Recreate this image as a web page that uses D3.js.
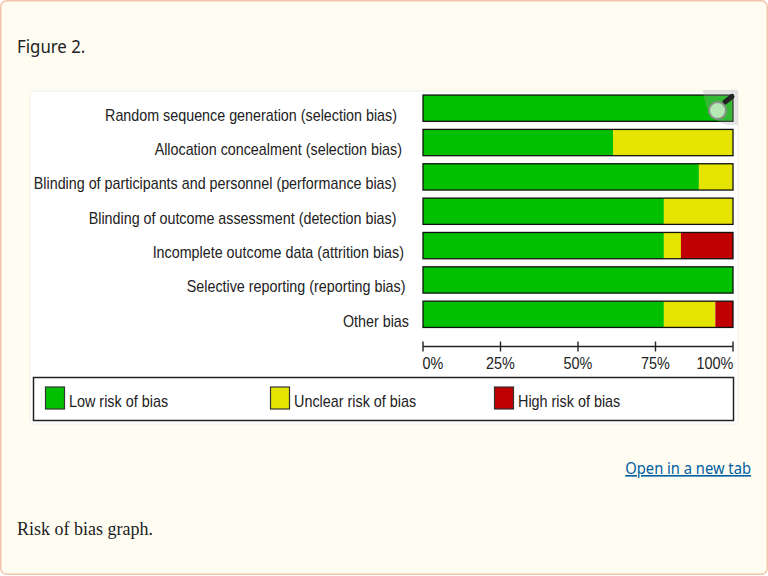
<!DOCTYPE html>
<html>
<head>
<meta charset="utf-8">
<script src="https://cdn.jsdelivr.net/npm/d3@7"></script>
<style>
  html, body { margin: 0; padding: 0; background: #fff; }
  svg { display: block; }
</style>
</head>
<body>
<div id="chart-container"></div>
<script>
// values, percent of studies
const domains = [
  "Random sequence generation (selection bias)",
  "Allocation concealment (selection bias)",
  "Blinding of participants and personnel (performance bias)",
  "Blinding of outcome assessment (detection bias)",
  "Incomplete outcome data (attrition bias)",
  "Selective reporting (reporting bias)",
  "Other bias"
];
const lowRisk = [100, 61.3, 89, 77.7, 77.7, 100, 77.7];
const unclearRisk = [0, 38.7, 11, 22.3, 5.5, 0, 16.6];
const highRisk = [0, 0, 0, 0, 16.8, 0, 5.7];
const riskNames = ["Low risk of bias", "Unclear risk of bias", "High risk of bias"];
const riskColors = ["#00c000", "#e4e400", "#c00000"];
const tickValues = [0, 25, 50, 75, 100];

// the labels in the source image are not quite aligned
const labelRight = [397, 402, 396.5, 396.5, 404, 405.5, 409];
const tickShift = [10, 0, 0, 0, -18];
const legendX = [45, 270, 494];

const width = 768, height = 576;
const chartFont = "'Liberation Sans', Arial, sans-serif";

// the image text is narrower than the installed fonts
function squeeze(sel, factor) {
  sel.each(function () {
    d3.select(this)
      .attr("textLength", this.getComputedTextLength() * factor)
      .attr("lengthAdjust", "spacingAndGlyphs");
  });
}

var svg = d3.select("#chart-container")
  .append("svg")
    .attr("width", width)
    .attr("height", height);

// page card
svg.append("rect")
  .attr("x", 0.75).attr("y", 0.75)
  .attr("width", width - 1.5).attr("height", height - 2.5)
  .attr("rx", 6)
  .attr("fill", "#fffdf2")
  .attr("stroke", "#f2c4ab")
  .attr("stroke-width", 1.5);

svg.append("text")
  .attr("x", 17).attr("y", 53)
  .attr("font-family", "'Noto Sans', sans-serif")
  .attr("font-size", 17.5)
  .attr("fill", "#222")
  .text("Figure 2.")
  .call(squeeze, 0.96);

// white image panel
svg.append("rect")
  .attr("x", 30).attr("y", 91)
  .attr("width", 708).attr("height", 333)
  .attr("rx", 4)
  .attr("fill", "#fff")
  .attr("stroke", "#f1f0ea");

var xScale = d3.scaleLinear().domain([0, 100]).range([423, 733]);
var yScale = d3.scaleBand()
  .domain(domains)
  .range([91, 331.5])
  .paddingInner(0.235)
  .paddingOuter(0.118);

var rows = domains.map((d, i) => ({ name: d, values: [lowRisk[i], unclearRisk[i], highRisk[i]] }));

var bars = svg.append("g").selectAll("g")
  .data(rows)
  .enter()
  .append("g");

bars.each(function (row) {
  var start = 0;
  row.values.forEach((v, k) => {
    if (v > 0) {
      d3.select(this).append("rect")
        .attr("x", xScale(start))
        .attr("y", yScale(row.name))
        .attr("width", xScale(start + v) - xScale(start))
        .attr("height", yScale.bandwidth())
        .attr("fill", riskColors[k]);
    }
    start += v;
  });
});

bars.append("rect")
  .attr("x", xScale(0))
  .attr("y", d => yScale(d.name))
  .attr("width", xScale(100) - xScale(0))
  .attr("height", yScale.bandwidth())
  .attr("fill", "none")
  .attr("stroke", "#111")
  .attr("stroke-width", 1.3);

bars.append("text")
  .attr("x", (d, i) => labelRight[i])
  .attr("y", d => yScale(d.name) + yScale.bandwidth() / 2 + 12.5)
  .attr("text-anchor", "end")
  .attr("font-family", chartFont)
  .attr("font-size", 16.2)
  .attr("fill", "#222")
  .text(d => d.name)
  .call(squeeze, 0.884);

// axis
var axis = svg.append("g")
  .attr("transform", "translate(0,346.5)")
  .call(d3.axisBottom(xScale)
    .tickValues(tickValues)
    .tickFormat(d => d + "%")
    .tickSize(0)
    .tickPadding(11)
    .offset(0));
axis.select(".domain").attr("stroke", "#222").attr("stroke-width", 1.4);
axis.selectAll(".tick line")
  .attr("y1", -5).attr("y2", 5)
  .attr("stroke", "#222").attr("stroke-width", 1.4);
axis.selectAll(".tick text")
  .attr("dx", (d, i) => tickShift[i])
  .attr("font-family", chartFont)
  .attr("font-size", 16.2)
  .attr("fill", "#222")
  .call(squeeze, 0.89);

// legend
svg.append("rect")
  .attr("x", 33.5).attr("y", 377.5)
  .attr("width", 700).attr("height", 43)
  .attr("fill", "#fff")
  .attr("stroke", "#222")
  .attr("stroke-width", 1.5);

var legend = svg.append("g").selectAll("g")
  .data(riskNames)
  .enter()
  .append("g")
    .attr("transform", (d, i) => "translate(" + legendX[i] + ",387)");
legend.append("rect")
  .attr("x", 0.5).attr("y", 0)
  .attr("width", 19).attr("height", 22)
  .attr("fill", (d, i) => riskColors[i])
  .attr("stroke", "#333")
  .attr("stroke-width", 1.2);
legend.append("text")
  .attr("x", 24).attr("y", 19.5)
  .attr("font-family", chartFont)
  .attr("font-size", 16.2)
  .attr("fill", "#222")
  .text(d => d)
  .call(squeeze, 0.888);

// magnifier badge in the corner of the image
var badge = svg.append("g").attr("transform", "translate(703,91)");
badge.append("path")
  .attr("d", "M0,-1H35V34H25Q3,30 0,0Z")
  .attr("fill", "#aaa")
  .attr("fill-opacity", 0.3);
badge.append("line")
  .attr("x1", 22).attr("y1", 11).attr("x2", 29).attr("y2", 5.5)
  .attr("stroke", "#222").attr("stroke-width", 5).attr("stroke-linecap", "round");
badge.append("circle")
  .attr("cx", 14.5).attr("cy", 19.5).attr("r", 8.5)
  .attr("fill", "#b5e8b5")
  .attr("stroke", "#8a8f8a")
  .attr("stroke-width", 2);

svg.append("text")
  .attr("x", 751).attr("y", 474)
  .attr("text-anchor", "end")
  .attr("font-family", "'Noto Sans', sans-serif")
  .attr("font-size", 16)
  .attr("fill", "#005ea2")
  .attr("text-decoration", "underline")
  .text("Open in a new tab")
  .call(squeeze, 0.92);

svg.append("text")
  .attr("x", 17).attr("y", 535)
  .attr("font-family", "'Liberation Serif', serif")
  .attr("font-size", 18)
  .attr("fill", "#222")
  .text("Risk of bias graph.");
</script>
</body>
</html>
